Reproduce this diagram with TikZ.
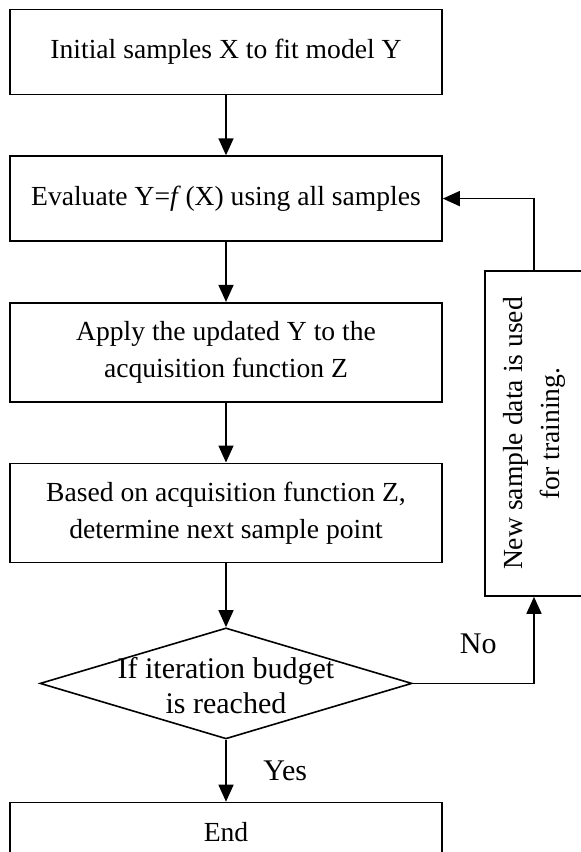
\documentclass[tikz,border=0pt]{standalone}
\usepackage{fontspec}
\setmainfont{Liberation Serif}
\usetikzlibrary{positioning}
\usetikzlibrary{shapes.geometric}
\usetikzlibrary{arrows.meta}

\begin{document}
\begin{tikzpicture}[
    node distance=30pt and 30pt,
    font=\fontsize{13.8pt}{18.5pt}\selectfont,
    line width=0.8pt,
    process/.style={draw,minimum width=216pt,minimum height=42.5pt,align=center,inner sep=2pt},
    tallproc/.style={process,minimum height=49.5pt},
    decision/.style={draw,diamond,minimum width=186pt,minimum height=55.5pt,inner sep=0pt},
    sidebox/.style={draw,rotate=90,minimum width=162.5pt,minimum height=49pt,align=center},
    biglabel/.style={font=\fontsize{15pt}{17.5pt}\selectfont},
    flow/.style={-{Triangle[length=8.5pt,width=7.5pt]}}
    ]
    \useasboundingbox (-113pt,26pt) rectangle (177.5pt,-400pt);

    \node[process] (init) {Initial samples X to fit model Y};
    \node[process, below=of init] (evaluate) {Evaluate Y=\textit{f}\,(X) using all samples};
    \node[tallproc, below=of evaluate] (apply) {Apply the updated Y to the\\acquisition function Z};
    \node[tallproc, below=of apply] (select) {Based on acquisition function Z,\\determine next sample point};

    \node[decision, below=32pt of select] (check) {};
    \node[biglabel, align=center] (checktext)
        at ([yshift=-1pt]check.center) {If iteration budget\\is reached};

    \node[process, minimum height=30pt, below=31pt of check] (finish) {End};

    \node[sidebox] (newdata) at (154pt,-190.75pt) {New sample data is used\\for training.};

    \draw[flow] (init) -- (evaluate);
    \draw[flow] (evaluate) -- (apply);
    \draw[flow] (apply) -- (select);
    \draw[flow] (select) -- (check);
    \draw[flow] (check) -- node[biglabel, right=15pt] (yeslabel) {Yes} (finish);

    \draw[flow] (check.east) -| node[biglabel, pos=0.27, above=11pt] (nolabel) {No} (newdata.west);
    \draw[flow] (newdata.east) |- (evaluate.east);

  \end{tikzpicture}
\end{document}
